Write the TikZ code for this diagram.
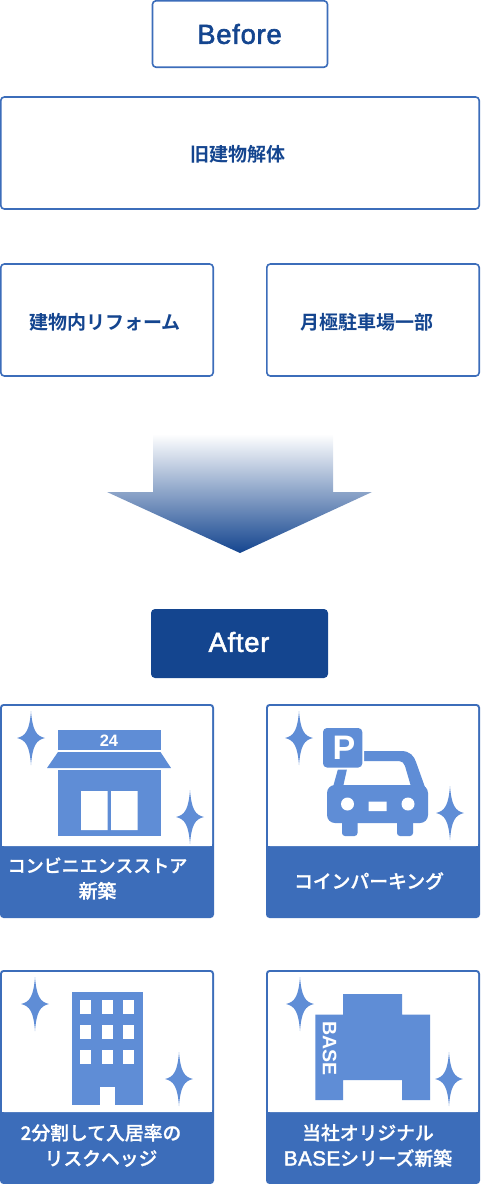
\documentclass[tikz,border=0pt]{standalone}
\usepackage{fontspec}
\setmainfont{Noto Sans CJK JP}[BoldFont={Noto Sans CJK JP Bold}]
\newfontfamily\medfont{Noto Sans CJK JP Medium}[FakeBold=1.0]
\newfontfamily\boldfont{Noto Sans CJK JP Bold}
\newfontfamily\latinfont{Liberation Sans}[FakeBold=2.0,LetterSpace=2.5]
\newfontfamily\signfont{Liberation Sans Bold}
\definecolor{navy}{HTML}{14458F}
\definecolor{edge}{HTML}{3C6DBA}
\definecolor{icon}{HTML}{5F8DD6}
\newcommand{\sparkle}[2]{%
 \fill[icon] (#1,#2-27) .. controls (#1+1.5,#2-8) and (#1+5,#2-2) .. (#1+14,#2)
  .. controls (#1+5,#2+2) and (#1+1.5,#2+8) .. (#1,#2+27)
  .. controls (#1-1.5,#2+8) and (#1-5,#2+2) .. (#1-14,#2)
  .. controls (#1-5,#2-2) and (#1-1.5,#2-8) .. (#1,#2-27) -- cycle;}
\tikzset{
 x=1pt,y=-1pt,
 outline/.style={draw=edge,line width=1.6pt,fill=white,rounded corners=3.5pt,inner sep=0pt},
 lbl/.style={text=navy,font=\boldfont\fontsize{19}{19}\selectfont,inner sep=0pt},
 white label/.style={text=white,font=\medfont\fontsize{18.8}{25.5}\selectfont,align=center,inner sep=0pt},
}
% name, x left, y top, label centre x, label centre y, text
\newcommand{\card}[6]{%
 \fill[edge,rounded corners=3.5pt] (#2,#3) rectangle ++(214,214);
 \fill[white,rounded corners=2pt] (#2+2,#3+2) rectangle ++(210,140);
 \fill[white] (#2+2,#3+100) rectangle (#2+212,#3+142);
 \node[white label] (#1) at (#4,#5) {#6};}
\begin{document}
\begin{tikzpicture}
\useasboundingbox (0,0) rectangle (480,1184);
% Before section
\draw[outline] (152.5,0.8) rectangle (327.5,67.2);
\node[lbl,font=\latinfont\fontsize{27.5}{27.5}\selectfont] (before) at (239.5,34) {Before};
\draw[outline] (0.8,97) rectangle (479.2,209);
\node[lbl] (demolish) at (237.5,154) {旧建物解体};
\draw[outline] (0.8,264) rectangle (213.2,376);
\node[lbl] (reform) at (105,322) {建物内リフォーム};
\draw[outline] (266.8,264) rectangle (479.2,376);
\node[lbl] (parking) at (367,322) {月極駐車場一部};
% Arrow
\shade[top color=white,bottom color=navy,middle color=navy!50!white]
 (153,434) -- (333,434) -- (333,492) -- (372,492) -- (240,553) -- (107,492) -- (153,492) -- cycle;
% After
\fill[navy,rounded corners=4pt] (151,609) rectangle (328,678);
\node[text=white,font=\latinfont\fontsize{27.5}{27.5}\selectfont,inner sep=0pt] (after) at (239,642) {After};
% Cards
\card{conv}{0}{704}{97.5}{878.5}{\fontsize{18}{25.5}\selectfont コンビニエンスストア\\新築}
\card{coin}{266}{704}{369}{881}{コインパーキング}
\card{split}{0}{970}{101}{1145.5}{2分割して入居率の\\リスクヘッジ}
\card{base}{266}{970}{368}{1145.5}{当社オリジナル\\{\latinfont\fontsize{20.5}{25.5}\selectfont BASE}シリーズ新築}
% Store icon
\sparkle{31}{738}
\sparkle{190}{817}
\fill[icon] (57.5,730) rectangle (161,750);
\node[text=white,font=\signfont\fontsize{16.5}{16.5}\selectfont,inner sep=0pt] (open) at (109,740.5) {24};
\fill[icon] (58,752) -- (160.5,752) -- (171,768) -- (47,768) -- cycle;
\fill[icon] (57.5,770) rectangle (161,836);
\fill[white] (81,791) rectangle (107.5,830) (111,791) rectangle (137.5,830);
% Car icon
\sparkle{299}{738}
\sparkle{450}{813}
\fill[icon,rounded corners=8pt] (327,785) -- (327,823) -- (428,823) -- (428,785) -- cycle;
\fill[icon,rounded corners=3pt] (342,815) rectangle (357.5,836) (397,815) rectangle (413,836);
\fill[icon] (333,787) -- (338,769) -- (347,769) -- (343,787) -- cycle;
\fill[icon] (360,751) -- (401,751) .. controls (410,751) and (414,756) .. (416,762) -- (426,790) -- (412,790) -- (405,766) .. controls (404,763) and (402,761) .. (399,761) -- (360,761) -- cycle;
\fill[white] (347.5,804) circle (6.5) (408,804) circle (6.5) (368.5,801.5) rectangle (386.5,811);
\fill[white,rounded corners=4pt] (321,726) rectangle (364,769.5);
\fill[icon,rounded corners=4pt] (323,728) rectangle (362.3,767.5);
\node[text=white,font=\signfont\fontsize{34}{34}\selectfont,inner sep=0pt] (psign) at (344,748) {P};
% Building icon
\sparkle{35}{1004}
\sparkle{179}{1079}
\fill[icon] (71.7,992) rectangle (143,1105);
\foreach \wx in {80,102,123}{\foreach \wy in {1000,1025,1050}{\fill[white] (\wx,\wy) rectangle ++(11,14);}}
\fill[white] (100,1087) rectangle (114.5,1105);
% BASE icon
\sparkle{300}{1004}
\sparkle{449}{1079}
\fill[icon] (315.3,1014.5) -- (343,1014.5) -- (343,994) -- (402,994) -- (402,1014.5) -- (430,1014.5) -- (430,1100) -- (402,1100) -- (402,1080) -- (343,1080) -- (343,1100) -- (315.3,1100) -- cycle;
\node[text=white,rotate=-90,font=\signfont\fontsize{19.5}{19.5}\selectfont,inner sep=0pt] (basesign) at (329.5,1048.5) {BASE};
\end{tikzpicture}
\end{document}
